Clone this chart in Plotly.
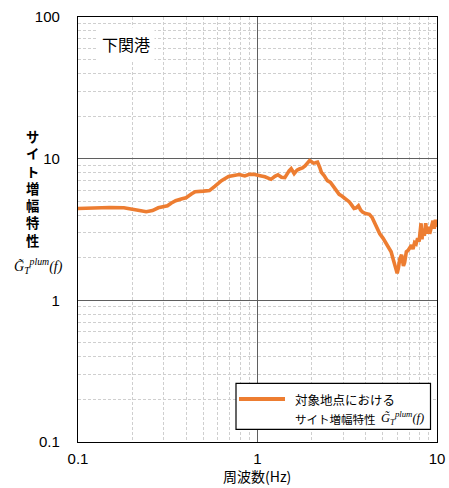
import plotly.graph_objects as go

# ---- data ----
freq = [0.1, 0.12, 0.15, 0.18, 0.2, 0.22, 0.24, 0.26, 0.28, 0.3, 0.315, 0.33, 0.35, 0.38, 0.40,
        0.43, 0.45, 0.5, 0.54, 0.58, 0.63, 0.69, 0.75, 0.79, 0.85, 0.9, 0.95, 1.0, 1.05, 1.1,
        1.15, 1.19, 1.25, 1.3, 1.36, 1.42, 1.5, 1.54, 1.6, 1.66, 1.71, 1.78, 1.84, 1.9, 1.95,
        2.0, 2.05, 2.1, 2.16, 2.22, 2.27, 2.35, 2.45, 2.55, 2.65, 2.75, 2.85, 2.95, 3.05, 3.15,
        3.25, 3.35, 3.45, 3.55, 3.65, 3.75, 3.85, 4.0, 4.2, 4.35, 4.5, 4.65, 4.8, 5.0, 5.2,
        5.4, 5.55, 5.7, 5.85, 6.0, 6.1, 6.2, 6.35, 6.5, 6.6, 6.75, 6.9, 7.05, 7.2, 7.35,
        7.5, 7.65, 7.8, 7.95, 8.05, 8.15, 8.25, 8.35, 8.5, 8.65, 8.8, 8.95, 9.1, 9.3, 9.5,
        9.65, 9.8, 10.0]
gain = [4.45, 4.5, 4.52, 4.5, 4.42, 4.3, 4.22, 4.3, 4.5, 4.62, 4.65, 4.85, 5.05, 5.22, 5.3,
        5.65, 5.85, 5.9, 5.95, 6.4, 7.0, 7.5, 7.7, 7.72, 7.55, 7.75, 7.75, 7.7, 7.55, 7.45,
        7.3, 7.15, 7.5, 7.7, 7.4, 7.35, 8.2, 8.5, 7.85, 8.3, 8.45, 8.6, 8.9, 9.4, 9.7,
        9.5, 9.3, 9.35, 9.45, 8.7, 8.0, 7.6, 7.0, 6.8, 6.4, 5.9, 5.6, 5.45, 5.3, 5.1,
        4.95, 4.7, 4.45, 4.5, 4.65, 4.35, 4.2, 4.1, 4.05, 3.85, 3.5, 3.2, 2.95, 2.75, 2.55,
        2.35, 2.2, 1.95, 1.75, 1.55, 1.7, 1.95, 2.1, 1.75, 1.85, 2.2, 2.25, 2.35, 2.45, 2.3,
        2.55, 2.5, 2.75, 2.6, 3.0, 3.5, 2.7, 3.2, 2.85, 3.5, 2.95, 3.3, 2.95, 3.3, 3.65,
        3.2, 3.7, 3.3]

site_name = "下関港"
x_title = "周波数(Hz)"
y_title_chars = ["サ", "イ", "ト", "増", "幅", "特", "性"]
math_label = "G\u0303<sub>T</sub><sup>plum</sup>(f)"
legend_line1 = "対象地点における"
legend_line2 = "サイト増幅特性"

ORANGE = "#ED7D31"
JP = "Noto Sans CJK JP"
LAT = "Liberation Sans, Arial"
SERIF = "Liberation Serif, DejaVu Serif"

W, H = 449, 488
L, R, T, B = 78, 12, 17, 46
PW, PH = W - L - R, H - T - B


def px(x):
    return (x - L) / PW


def py(y):
    return (H - B - y) / PH


fig = go.Figure()
fig.add_trace(go.Scatter(x=freq, y=gain, mode="lines",
                         line=dict(color=ORANGE, width=3.6),
                         showlegend=False, hoverinfo="skip"))

axis_common = dict(
    type="log", dtick=1, showline=True, linecolor="black", linewidth=1.2, mirror=True,
    showgrid=True, gridcolor="#5f5f5f", gridwidth=1, zeroline=False, ticks="", automargin=False,
    tickfont=dict(family=LAT, size=15, color="black"),
    minor=dict(dtick="D1", showgrid=True, gridcolor="#cfcfcf", griddash="3px,2px", gridwidth=1, ticks=""),
)
fig.update_xaxes(range=[-1, 1], ticklabelstandoff=3, **axis_common)
fig.update_yaxes(range=[-1, 2], ticklabelstandoff=14, **axis_common)

ann = []
# site name box
ann.append(dict(x=px(126), y=py(44), xref="paper", yref="paper", text=site_name, showarrow=False,
                font=dict(family=JP, size=16, color="black"), bgcolor="white", borderpad=4,
                xanchor="center", yanchor="middle"))
# y title, stacked characters (one text, one character per line)
ann.append(dict(x=px(32), y=py(188.5), xref="paper", yref="paper", text="<br>".join(y_title_chars),
                showarrow=False, font=dict(family=JP, size=13.3, color="black", weight="bold"),
                xanchor="center", yanchor="middle"))
ann.append(dict(x=px(38), y=py(266), xref="paper", yref="paper", text="<i>" + math_label + "</i>",
                showarrow=False, font=dict(family=SERIF, size=14, color="black"),
                xanchor="center", yanchor="middle"))
# x title
ann.append(dict(x=px(257), y=py(488), xref="paper", yref="paper", text=x_title, showarrow=False,
                font=dict(family=JP, size=14, color="black"), xanchor="center", yanchor="bottom"))
# legend texts
ann.append(dict(x=px(293), y=py(399), xref="paper", yref="paper", text=legend_line1, showarrow=False,
                font=dict(family=JP, size=12.5, color="black"), xanchor="left", yanchor="middle"))
ann.append(dict(x=px(293), y=py(419), xref="paper", yref="paper", text=legend_line2, showarrow=False,
                font=dict(family=JP, size=11.5, color="black"), xanchor="left", yanchor="middle"))
ann.append(dict(x=px(379), y=py(418), xref="paper", yref="paper", text="<i>" + math_label + "</i>",
                showarrow=False, font=dict(family=SERIF, size=12.5, color="black"),
                xanchor="left", yanchor="middle"))

shapes = [
    dict(type="rect", xref="paper", yref="paper", x0=px(236), x1=px(430.5), y0=py(429.3), y1=py(383.3),
         line=dict(color="black", width=1.2), fillcolor="white", layer="above"),
    dict(type="line", xref="paper", yref="paper", x0=px(239), x1=px(285), y0=py(399), y1=py(399),
         line=dict(color=ORANGE, width=4), layer="above"),
]

fig.update_layout(
    width=W, height=H, margin=dict(l=L, r=R, t=T, b=B, autoexpand=False),
    paper_bgcolor="white", plot_bgcolor="white",
    annotations=ann, shapes=shapes, showlegend=False,
)
fig.write_html("out.html", config={"displayModeBar": False},
               post_script="document.body.style.margin='0';document.body.style.overflow='hidden';")
